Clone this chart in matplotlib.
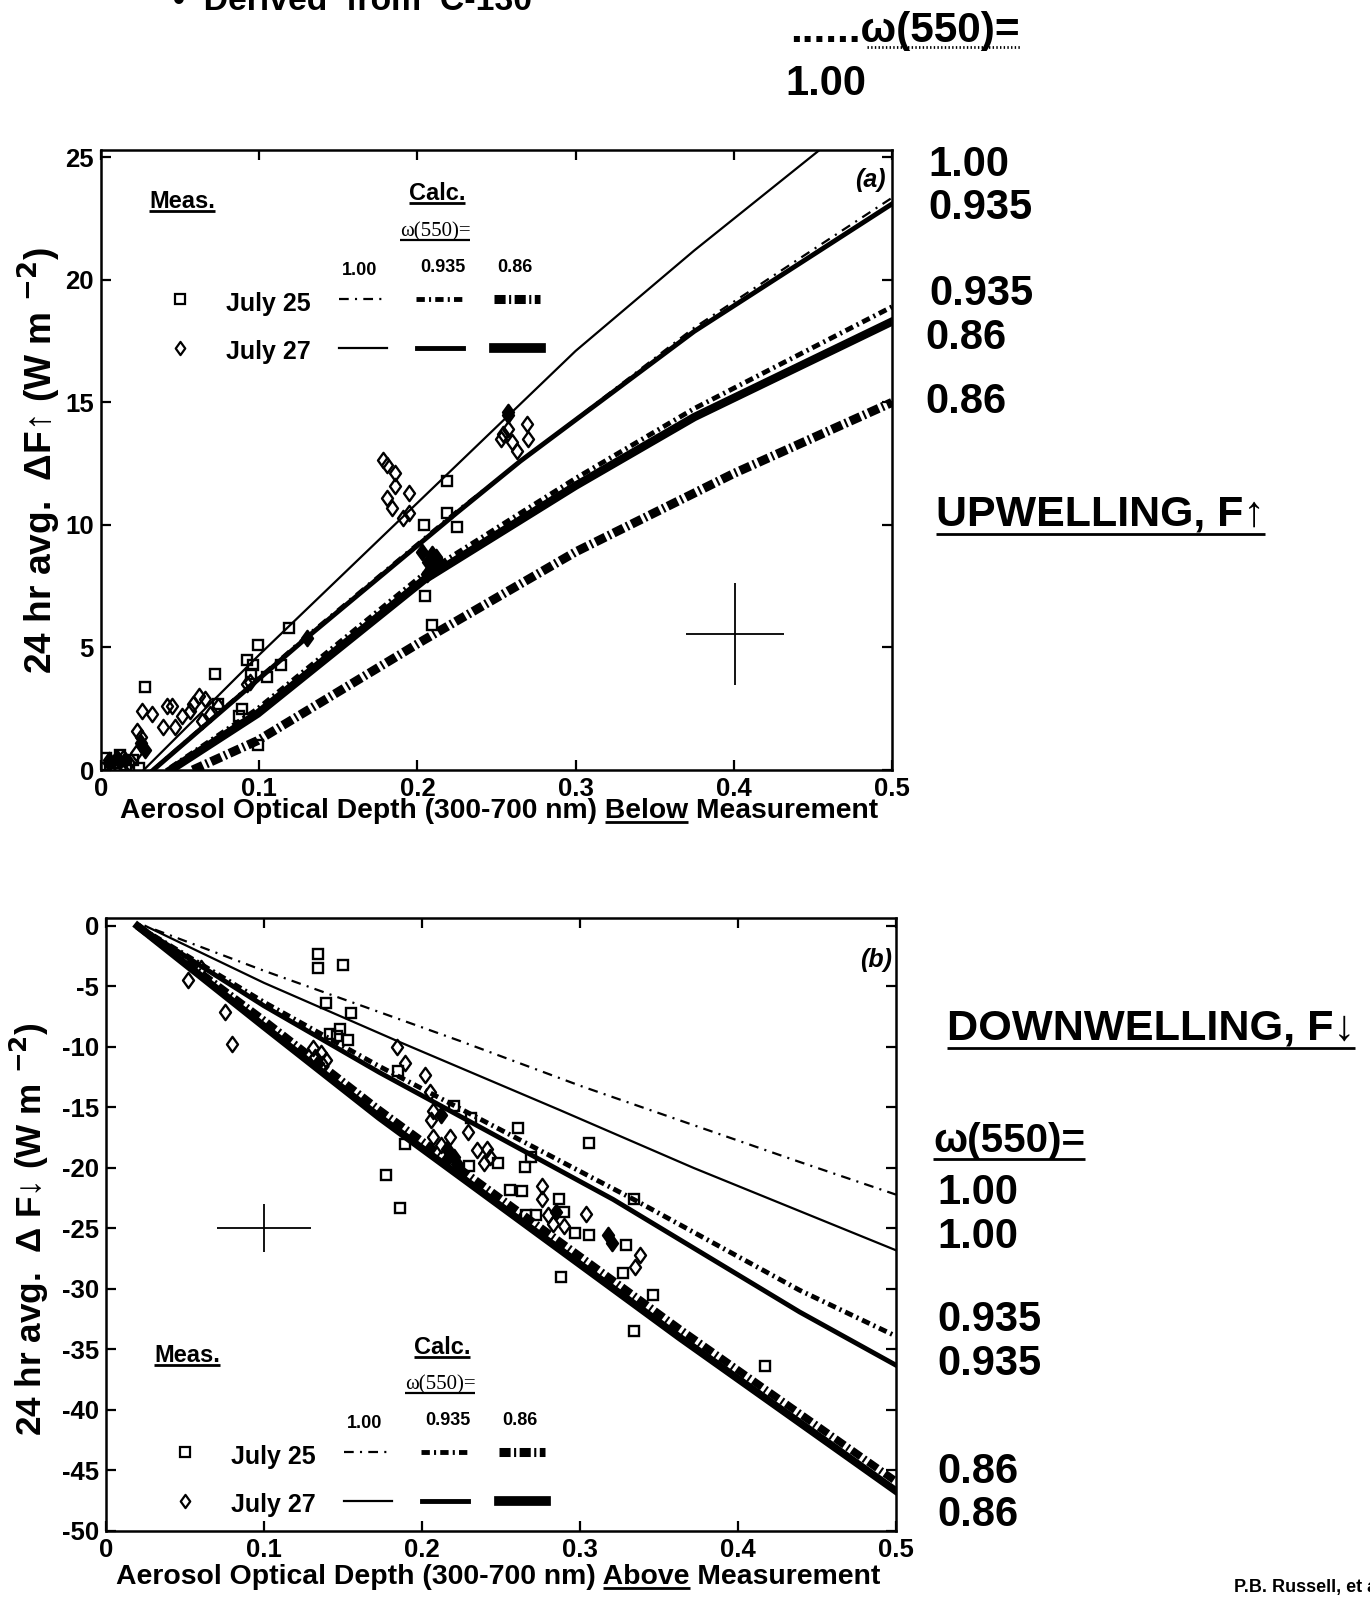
import matplotlib
matplotlib.use('Agg')
from matplotlib import pyplot as plt
from matplotlib.lines import Line2D
from matplotlib.path import Path

W, H = 1370, 1601
FONT = ['Liberation Sans', 'DejaVu Sans']
SERIF = ['Liberation Serif', 'DejaVu Serif']

# ---- axes ticks ----
tau_ticks = [0, 0.1, 0.2, 0.3, 0.4, 0.5]
tau_labels = ['0', '0.1', '0.2', '0.3', '0.4', '0.5']
up_ticks = [0, 5, 10, 15, 20, 25]
up_labels = ['0', '5', '10', '15', '20', '25']
dn_ticks = [0, -5, -10, -15, -20, -25, -30, -35, -40, -45, -50]
dn_labels = ['0', '-5', '-10', '-15', '-20', '-25', '-30', '-35', '-40', '-45', '-50']

# ---- (a) upwelling, calculated curves (tau, flux) ----
up_j27_100_tau = [0.027, 0.1, 0.2, 0.3, 0.375, 0.46, 0.5]
up_j27_100_flux = [0.0, 4.7, 10.9, 17.1, 21.2, 25.6, 27.5]
up_j27_935_tau = [0.033, 0.13, 0.225, 0.265, 0.375, 0.5]
up_j27_935_flux = [0.0, 5.4, 10.5, 12.6, 17.9, 23.1]
up_j25_100_tau = [0.033, 0.13, 0.225, 0.375, 0.5]
up_j25_100_flux = [0.05, 5.5, 10.6, 18.05, 23.35]
up_j27_86_tau = [0.044, 0.099, 0.204, 0.3, 0.375, 0.5]
up_j27_86_flux = [0.0, 2.3, 7.75, 11.6, 14.4, 18.3]
up_j25_935_tau = [0.044, 0.099, 0.204, 0.3, 0.375, 0.5]
up_j25_935_flux = [0.1, 2.5, 8.0, 11.9, 14.75, 18.9]
up_j25_86_tau = [0.058, 0.099, 0.204, 0.3, 0.4, 0.5]
up_j25_86_flux = [0.0, 1.2, 5.3, 8.9, 12.1, 15.0]

# ---- (a) measurements ----
up_sq_tau = [0.219, 0.219, 0.225, 0.204, 0.205, 0.209, 0.119, 0.099, 0.092, 0.096,
             0.095, 0.105, 0.114, 0.072, 0.028, 0.089, 0.087, 0.099, 0.074,
             0.003, 0.008, 0.012, 0.016, 0.020, 0.024, 0.006]
up_sq_flux = [11.8, 10.5, 9.9, 10.0, 7.1, 5.9, 5.8, 5.1, 4.5, 4.3,
              3.9, 3.8, 4.3, 3.9, 3.4, 2.5, 2.2, 1.0, 2.7,
              0.5, 0.3, 0.6, 0.2, 0.4, 0.1, 0.1]
up_di_tau = [0.178, 0.181, 0.186, 0.186, 0.181, 0.184, 0.191, 0.195, 0.195,
             0.257, 0.254, 0.257, 0.260, 0.263, 0.269, 0.270, 0.253,
             0.026, 0.032, 0.042, 0.045, 0.051, 0.058, 0.062, 0.066, 0.074, 0.056,
             0.069, 0.039, 0.023, 0.025, 0.047, 0.064, 0.092, 0.094,
             0.005, 0.010, 0.014, 0.018, 0.022]
up_di_flux = [12.65, 12.45, 12.1, 11.6, 11.1, 10.7, 10.3, 10.5, 11.3,
              14.5, 13.7, 13.9, 13.4, 13.0, 14.1, 13.5, 13.5,
              2.4, 2.3, 2.6, 2.6, 2.2, 2.7, 3.0, 2.9, 2.6, 2.4,
              2.3, 1.75, 1.6, 1.35, 1.75, 2.0, 3.5, 3.6,
              0.4, 0.2, 0.5, 0.3, 0.7]
up_fill_tau = [0.203, 0.207, 0.210, 0.212, 0.206, 0.214, 0.209, 0.257, 0.130,
               0.025, 0.005, 0.015, 0.028, 0.010]
up_fill_flux = [8.9, 8.5, 8.2, 8.7, 8.0, 8.4, 8.8, 14.6, 5.4,
                1.1, 0.3, 0.4, 0.8, 0.5]
up_err_tau, up_err_flux, up_err_dtau, up_err_dflux = 0.401, 5.55, 0.031, 2.08

# ---- (b) downwelling, calculated curves ----
dn_j25_100_tau = [0.031, 0.1, 0.224, 0.3, 0.439, 0.5]
dn_j25_100_flux = [-0.3, -3.7, -9.5, -13.2, -19.5, -22.2]
dn_j27_100_tau = [0.025, 0.1, 0.186, 0.287, 0.372, 0.5]
dn_j27_100_flux = [0.0, -4.7, -9.6, -15.2, -20.0, -26.8]
dn_j25_935_tau = [0.02, 0.1, 0.173, 0.334, 0.439, 0.5]
dn_j25_935_flux = [0.0, -6.3, -11.6, -22.6, -30.1, -33.9]
dn_j27_935_tau = [0.02, 0.1, 0.173, 0.321, 0.439, 0.5]
dn_j27_935_flux = [0.0, -6.6, -12.1, -22.6, -31.9, -36.3]
dn_j27_86_tau = [0.02, 0.1, 0.173, 0.363, 0.5]
dn_j27_86_flux = [0.0, -8.3, -15.8, -34.0, -46.7]
dn_j25_86_tau = [0.02, 0.1, 0.173, 0.363, 0.5]
dn_j25_86_flux = [0.0, -7.8, -15.2, -33.3, -45.9]

# ---- (b) measurements ----
dn_sq_tau = [0.134, 0.134, 0.150, 0.139, 0.155, 0.148, 0.153, 0.142, 0.146, 0.177,
             0.186, 0.189, 0.185, 0.220, 0.231, 0.261, 0.306, 0.248, 0.265, 0.269,
             0.230, 0.256, 0.263, 0.287, 0.290, 0.334, 0.306, 0.297, 0.329, 0.327,
             0.288, 0.346, 0.334, 0.417, 0.266, 0.272]
dn_sq_flux = [-2.3, -3.5, -3.2, -6.4, -7.2, -8.5, -9.4, -8.9, -9.1, -20.6,
              -23.3, -18.0, -12.0, -14.9, -15.9, -16.7, -17.9, -19.6, -19.9, -19.1,
              -19.8, -21.8, -21.9, -22.6, -23.6, -22.6, -25.5, -25.4, -26.4, -28.7,
              -29.0, -30.5, -33.5, -36.4, -23.9, -23.9]
dn_di_tau = [0.052, 0.060, 0.075, 0.080, 0.131, 0.136, 0.139, 0.132, 0.137, 0.184,
             0.189, 0.202, 0.205, 0.207, 0.206, 0.207, 0.212, 0.218, 0.229, 0.235,
             0.241, 0.239, 0.243, 0.276, 0.276, 0.280, 0.283, 0.290, 0.304, 0.338,
             0.335]
dn_di_flux = [-4.5, -3.5, -7.1, -9.75, -10.1, -10.5, -11.1, -10.8, -11.4, -10.0,
              -11.3, -12.3, -13.7, -15.3, -16.0, -17.4, -18.1, -17.4, -17.0, -18.5,
              -18.4, -19.6, -19.1, -21.5, -22.6, -23.9, -24.6, -24.8, -23.8, -27.2,
              -28.2]
dn_fill_tau = [0.216, 0.220, 0.222, 0.318, 0.320, 0.285, 0.212]
dn_fill_flux = [-18.4, -19.1, -19.7, -25.5, -26.2, -23.6, -15.6]
dn_err_tau, dn_err_flux, dn_err_dtau, dn_err_dflux = 0.1, -24.95, 0.03, 2.0

plt.rcParams.update({
	'font.family': FONT,
	'font.weight': 'bold',
	'mathtext.default': 'bf',
	'lines.scale_dashes': False,
	'axes.linewidth': 1.8,
})

THIN = 1.6
MED = 3.5
THICK = 6.0
DD_THIN = (0, (7, 4.5, 1.5, 4.5))
DD_MED = (0, (6, 3, 1.5, 3))
DD_THICK = (0, (8, 2.5, 1.5, 2.5))

DIAMOND = Path([(0, 1), (0.72, 0), (0, -1), (-0.72, 0), (0, 1)],
               [Path.MOVETO, Path.LINETO, Path.LINETO, Path.LINETO, Path.CLOSEPOLY])

fig = plt.figure(figsize=(W / 100, H / 100), dpi=100)
rend = fig.canvas.get_renderer()

ax_up = fig.add_axes([101 / W, 1 - 770 / H, (892 - 101) / W, (770 - 150) / H])
ax_dn = fig.add_axes([106 / W, 1 - 1531 / H, (896 - 106) / W, (1531 - 918) / H])


def style_axis(ax, yticks, ylabels, ylim):
	ax.set_xlim(0, 0.5)
	ax.set_ylim(*ylim)
	ax.set_xticks(tau_ticks, labels=tau_labels)
	ax.set_yticks(yticks, labels=ylabels)
	ax.tick_params(direction='in', length=7, width=1.6, top=True, right=True,
	               labelsize=18.5, pad=5)


def scatter(ax, tsq, fsq, tdi, fdi, tfill, ffill):
	ax.plot(tsq, fsq, ls='none', marker='s', ms=7.5, mfc='none', mec='k', mew=1.7)
	ax.plot(tdi, fdi, ls='none', marker=DIAMOND, ms=11, mfc='none', mec='k', mew=1.7)
	ax.plot(tfill, ffill, ls='none', marker=DIAMOND, ms=11, mfc='k', mec='k', mew=1.7)


# ---- panel (a) ----
style_axis(ax_up, up_ticks, up_labels, (0, 25.3))
ax_up.plot(up_j27_100_tau, up_j27_100_flux, color='k', lw=THIN)
ax_up.plot(up_j27_935_tau, up_j27_935_flux, color='k', lw=MED)
ax_up.plot(up_j25_100_tau, up_j25_100_flux, color='k', lw=THIN, ls=DD_THIN)
ax_up.plot(up_j27_86_tau, up_j27_86_flux, color='k', lw=THICK)
ax_up.plot(up_j25_935_tau, up_j25_935_flux, color='k', lw=MED, ls=DD_MED)
ax_up.plot(up_j25_86_tau, up_j25_86_flux, color='k', lw=THICK + 0.5, ls=DD_THICK)
scatter(ax_up, up_sq_tau, up_sq_flux, up_di_tau, up_di_flux, up_fill_tau, up_fill_flux)
ax_up.errorbar([up_err_tau], [up_err_flux], xerr=[up_err_dtau], yerr=[up_err_dflux],
               fmt='none', ecolor='k', elinewidth=1.3, capsize=0)

# ---- panel (b) ----
style_axis(ax_dn, dn_ticks, dn_labels, (-50, 0.66))
ax_dn.plot(dn_j25_100_tau, dn_j25_100_flux, color='k', lw=THIN, ls=DD_THIN)
ax_dn.plot(dn_j27_100_tau, dn_j27_100_flux, color='k', lw=THIN)
ax_dn.plot(dn_j27_935_tau, dn_j27_935_flux, color='k', lw=MED)
ax_dn.plot(dn_j25_935_tau, dn_j25_935_flux, color='k', lw=MED, ls=DD_MED)
ax_dn.plot(dn_j27_86_tau, dn_j27_86_flux, color='k', lw=THICK - 0.5)
ax_dn.plot(dn_j25_86_tau, dn_j25_86_flux, color='k', lw=THICK - 0.5, ls=DD_THICK)
scatter(ax_dn, dn_sq_tau, dn_sq_flux, dn_di_tau, dn_di_flux, dn_fill_tau, dn_fill_flux)
ax_dn.errorbar([dn_err_tau], [dn_err_flux], xerr=[dn_err_dtau], yerr=[dn_err_dflux],
               fmt='none', ecolor='k', elinewidth=1.3, capsize=0)


# ---- text helpers, positions in image pixels from top-left ----
def label(x, y, s, size, ha='left', va='center', width=None, height=None, **kw):
	kw.setdefault('fontweight', 'bold')
	t = fig.text(x / W, 1 - y / H, s, fontsize=size, ha=ha, va=va, **kw)
	if width is not None:
		t.set_fontsize(size * width / t.get_window_extent(rend).width)
	if height is not None:
		t.set_fontsize(size * height / t.get_window_extent(rend).height)
	return t


def hline(x0, x1, y, lw=2.0, ls='-'):
	fig.add_artist(Line2D([x0 / W, x1 / W], [y / H, y / H], transform=fig.transFigure,
	                      color='k', lw=lw, ls=ls, solid_capstyle='butt'))


def underline(t, gap=2, lw=2.0):
	bb = t.get_window_extent(rend)
	hline(bb.x0, bb.x1, bb.y0 + gap, lw=lw)


def underline_word(t, prefix, word, gap=2, lw=2.0):
	bb = t.get_window_extent(rend)
	tmp = fig.text(0, 0, prefix + word, fontsize=t.get_fontsize(), fontweight='bold')
	w1 = tmp.get_window_extent(rend).width
	tmp.set_text(word)
	w_word = tmp.get_window_extent(rend).width
	tmp.remove()
	hline(bb.x0 + w1 - w_word, bb.x0 + w1, bb.y0 + gap, lw=lw)


def sample(x0, x1, y, lw, ls='-'):
	fig.add_artist(Line2D([x0 / W, x1 / W], [1 - y / H, 1 - y / H], transform=fig.transFigure,
	                      color='k', lw=lw, ls=ls))


def marker(x, y, m, ms):
	fig.add_artist(Line2D([x / W], [1 - y / H], transform=fig.transFigure, ls='none',
	                      marker=m, ms=ms, mfc='none', mec='k', mew=1.6))


def legend_block(top, left_off=0):
	# top: y of the "Calc." centre
	t = label(149 + left_off, top + 8, 'Meas.', 17)
	underline(t)
	t = label(437 + left_off, top, 'Calc.', 17, ha='center')
	underline(t)
	t = label(435 + left_off, top + 38, 'ω(550)=', 15, ha='center', fontweight='normal',
	          family=SERIF)
	underline(t, lw=1.6)
	label(360 + left_off, top + 76, '1.00', 13, ha='center')
	label(443 + left_off, top + 73, '0.935', 13, ha='center')
	label(515 + left_off, top + 73, '0.86', 13, ha='center')
	r1, r2 = top + 105, top + 154
	marker(180 + left_off, r1, 's', 6.5)
	marker(180 + left_off, r2, DIAMOND, 9.5)
	label(226 + left_off, r1 + 5, 'July 25', 18)
	label(226 + left_off, r2 + 4, 'July 27', 18)
	sample(339 + left_off, 386 + left_off, r1, THIN, DD_THIN)
	sample(416 + left_off, 462 + left_off, r1, MED, DD_MED)
	sample(494 + left_off, 540 + left_off, r1, THICK + 0.5, DD_THICK)
	sample(339 + left_off, 387 + left_off, r2, THIN)
	sample(417 + left_off, 463 + left_off, r2, MED)
	sample(494 + left_off, 541 + left_off, r2, THICK + 1.0)


legend_block(194)
legend_block(1347, left_off=5)

# panel tags
label(870, 180, '(a)', 18, ha='center', fontstyle='italic')
label(876, 960, '(b)', 18, ha='center', fontstyle='italic')

# axis titles
label(39, 460, '24 hr avg.  ΔF↑ (W m $^{-2}$)', 26, ha='center', rotation=90, height=428)
label(29, 1229, '24 hr avg.  Δ F↓ (W m $^{-2}$)', 26, ha='center', rotation=90, height=414)
t = label(120, 811, 'Aerosol Optical Depth (300-700 nm) Below Measurement', 20, width=757)
underline_word(t, 'Aerosol Optical Depth (300-700 nm) ', 'Below')
t = label(116, 1577, 'Aerosol Optical Depth (300-700 nm) Above Measurement', 20, width=763)
underline_word(t, 'Aerosol Optical Depth (300-700 nm) ', 'Above')

# right-hand annotations
label(928, 165, '1.00', 30)
label(928, 208, '0.935', 30)
label(929, 294, '0.935', 30)
label(925, 338, '0.86', 30)
label(925, 402, '0.86', 30)
t = label(936, 515, 'UPWELLING, F↑', 30, width=328)
underline(t, gap=1)
t = label(947, 1029, 'DOWNWELLING, F↓', 30, width=408)
underline(t, gap=1)
t = label(933, 1141, 'ω(550)=', 30, width=152)
underline(t, gap=1)
for yy, s in [(1193, '1.00'), (1237, '1.00'), (1320, '0.935'), (1364, '0.935'),
              (1472, '0.86'), (1515, '0.86')]:
	label(937, yy, s, 30)

# page header fragments (cut by the page edge as in the scan)
label(173, 10, '•  Derived  from  C-130', 24, va='baseline', width=360)
label(790, 31, '......ω(550)=', 26, width=230)
hline(867, 1020, H - 47, lw=2.0, ls=':')
label(785, 84, '1.00', 30)
label(1234, 1587, 'P.B. Russell, et al.', 13)

fig.savefig('out.png', dpi=100)
